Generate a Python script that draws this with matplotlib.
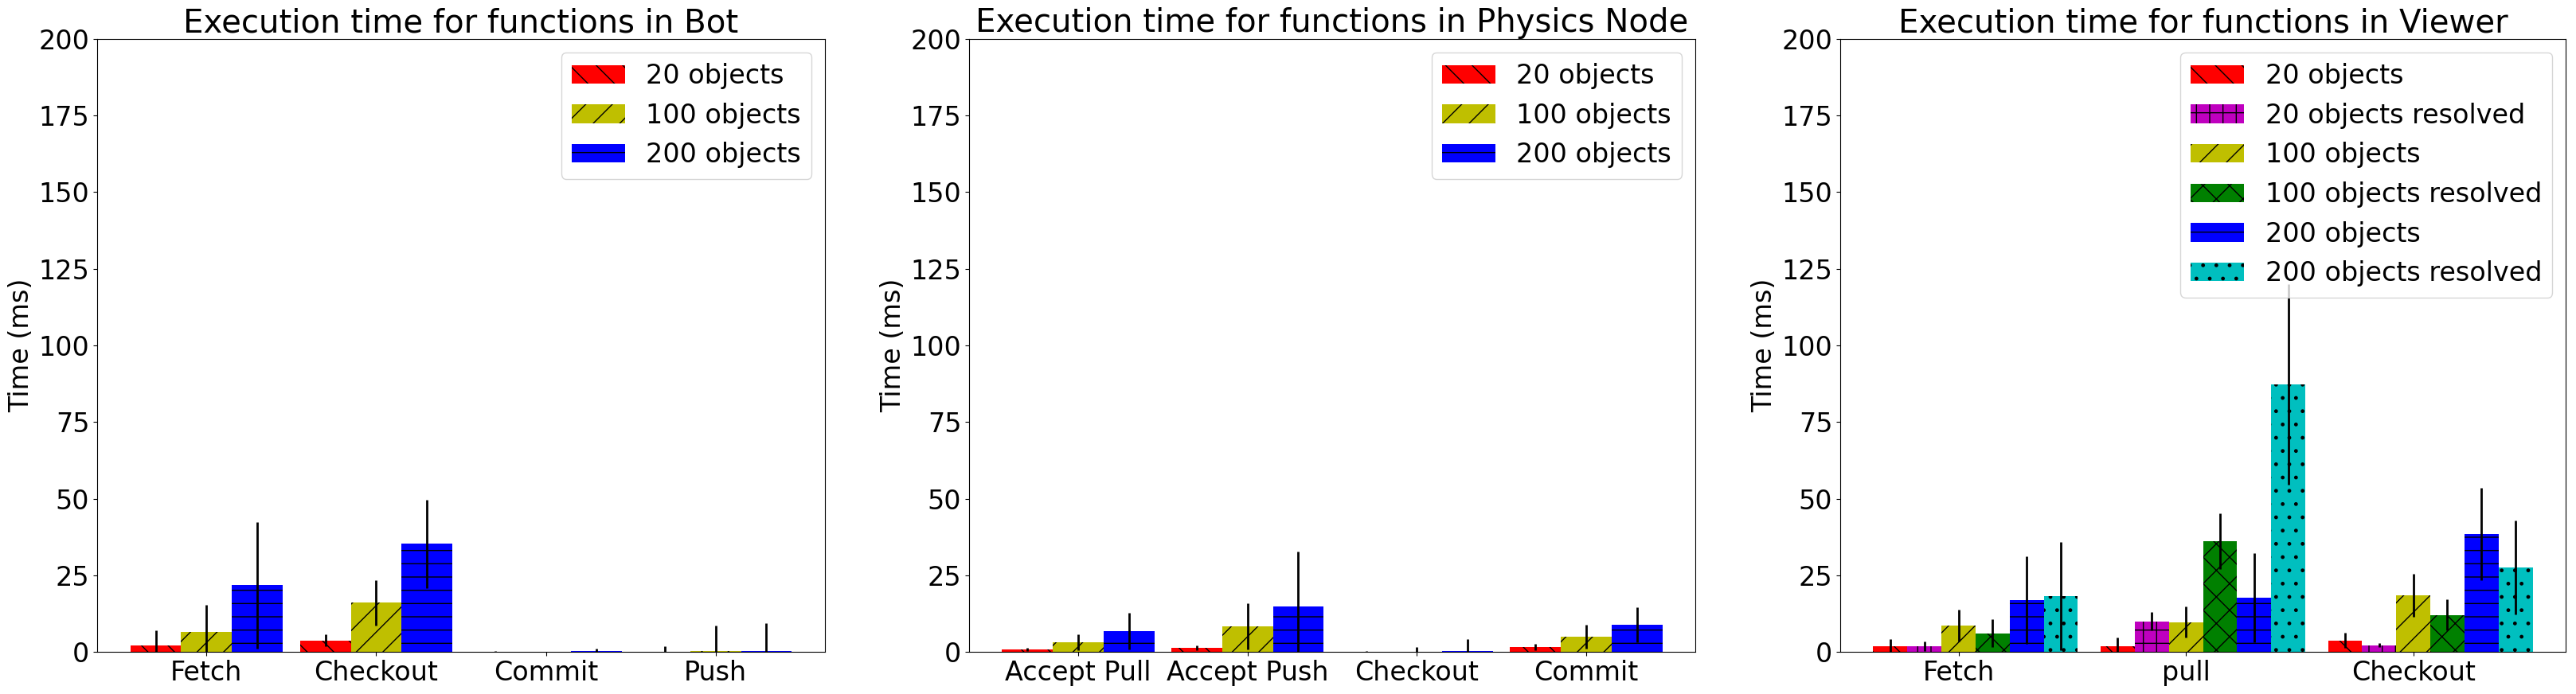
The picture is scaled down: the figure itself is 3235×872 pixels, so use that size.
import matplotlib
matplotlib.use("Agg")
import matplotlib.pyplot as plt
import numpy as np

# ---- data ----
bot_funcs = ["Fetch", "Checkout", "Commit", "Push"]
bot_20 = [2.2, 3.7, 0.05, 0.1]
bot_20_err = [4.7, 2.0, 0.2, 1.7]
bot_100 = [6.6, 16.0, 0.05, 0.2]
bot_100_err = [8.6, 7.3, 0.05, 8.4]
bot_200 = [21.7, 35.2, 0.2, 0.3]
bot_200_err = [20.7, 14.3, 0.8, 9.1]

phys_funcs = ["Accept Pull", "Accept Push", "Checkout", "Commit"]
phys_20 = [0.8, 1.3, 0.05, 1.6]
phys_20_err = [0.5, 0.8, 0.2, 1.0]
phys_100 = [3.1, 8.4, 0.1, 5.0]
phys_100_err = [2.6, 7.5, 1.5, 3.9]
phys_200 = [6.8, 14.9, 0.2, 8.9]
phys_200_err = [5.9, 17.8, 4.0, 5.7]

viewer_funcs = ["Fetch", "pull", "Checkout"]
view_20 = [1.75, 1.85, 3.7]
view_20_err = [2.5, 2.8, 2.5]
view_20r = [1.75, 10.0, 2.15]
view_20r_err = [1.5, 3.0, 0.6]
view_100 = [8.6, 9.65, 18.5]
view_100_err = [5.2, 5.1, 7.0]
view_100r = [6.1, 36.1, 12.0]
view_100r_err = [4.6, 9.0, 5.1]
view_200 = [16.9, 17.7, 38.5]
view_200_err = [14.2, 14.6, 15.0]
view_200r = [18.2, 87.3, 27.5]
view_200r_err = [17.6, 32.7, 15.4]

yticks = [0, 25, 50, 75, 100, 125, 150, 175, 200]

FS = 24
W, H = 3235, 872
fig = plt.figure(figsize=(W / 100, H / 100), dpi=100)

def add_ax(left, right):
    return fig.add_axes([left / W, 1 - 819 / H, (right - left) / W, (819 - 49) / H])

axes = [add_ax(122, 1036), add_ax(1217, 2129), add_ax(2311, 3222)]

def draw(ax, funcs, series, width, title):
    x = np.arange(len(funcs))
    n = len(series)
    for i, (vals, errs, color, hatch, label) in enumerate(series):
        off = (i - (1 if n == 3 else 2)) * width
        ax.bar(x + off, vals, width, yerr=errs, color=color, hatch=hatch,
               label=label, ecolor="black", error_kw=dict(elinewidth=2))
    ax.set_xticks(x)
    ax.set_xticklabels(funcs, fontsize=FS)
    ax.set_ylim(0, 200)
    ax.set_yticks(yticks)
    ax.tick_params(axis="y", labelsize=FS)
    ax.set_ylabel("Time (ms)", fontsize=FS)
    ax.set_title(title, fontsize=29)
    ax.legend(loc="upper right", fontsize=FS)

draw(axes[0], bot_funcs, [
    (bot_20, bot_20_err, "r", "\\", "20 objects"),
    (bot_100, bot_100_err, "y", "/", "100 objects"),
    (bot_200, bot_200_err, "b", "-", "200 objects"),
], 0.3, "Execution time for functions in Bot")

draw(axes[1], phys_funcs, [
    (phys_20, phys_20_err, "r", "\\", "20 objects"),
    (phys_100, phys_100_err, "y", "/", "100 objects"),
    (phys_200, phys_200_err, "b", "-", "200 objects"),
], 0.3, "Execution time for functions in Physics Node")

draw(axes[2], viewer_funcs, [
    (view_20, view_20_err, "r", "\\", "20 objects"),
    (view_20r, view_20r_err, "m", "+", "20 objects resolved"),
    (view_100, view_100_err, "y", "/", "100 objects"),
    (view_100r, view_100r_err, "g", "x", "100 objects resolved"),
    (view_200, view_200_err, "b", "-", "200 objects"),
    (view_200r, view_200r_err, "c", ".", "200 objects resolved"),
], 0.15, "Execution time for functions in Viewer")

fig.savefig("out.png", dpi=100)
